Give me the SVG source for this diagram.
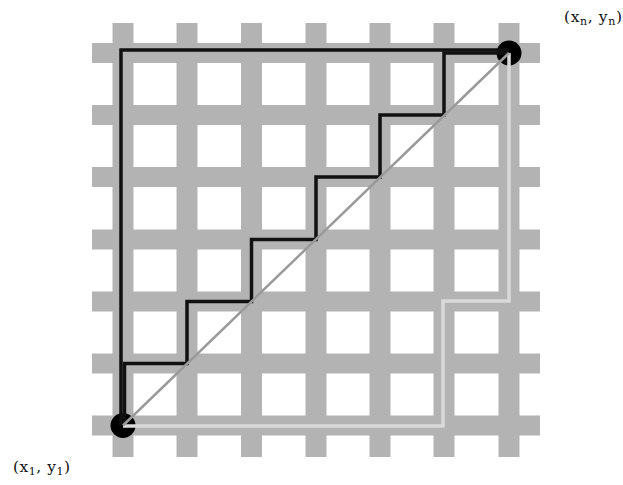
<svg xmlns="http://www.w3.org/2000/svg" width="623" height="485" viewBox="0 0 623 485">
<style>
.bar{fill:#b3b3b3}
.blk{fill:none;stroke:#111;stroke-width:3.5;stroke-linejoin:miter}
.lt{fill:none;stroke:#d9d9d9;stroke-width:3.5}
.dg{fill:none;stroke:#9a9a9a;stroke-width:2.5}
.dot{fill:#000}
.lbl{font-family:"DejaVu Serif","Liberation Serif",serif;font-size:15.5px;fill:#111}
.sub{font-size:11px}
</style>
<rect width="623" height="485" fill="#fff"/>
<g id="grid">
<rect class="bar" x="112.5" y="23" width="21" height="434"/>
<rect class="bar" x="176.5" y="23" width="21" height="434"/>
<rect class="bar" x="241" y="23" width="21" height="434"/>
<rect class="bar" x="305.5" y="23" width="21" height="434"/>
<rect class="bar" x="369.5" y="23" width="21" height="434"/>
<rect class="bar" x="433.5" y="23" width="21" height="434"/>
<rect class="bar" x="498.5" y="23" width="21" height="434"/>
<rect class="bar" x="92" y="43" width="448" height="20"/>
<rect class="bar" x="92" y="105" width="448" height="20"/>
<rect class="bar" x="92" y="167" width="448" height="20"/>
<rect class="bar" x="92" y="229.5" width="448" height="20"/>
<rect class="bar" x="92" y="291.5" width="448" height="20"/>
<rect class="bar" x="92" y="353.5" width="448" height="20"/>
<rect class="bar" x="92" y="415.5" width="448" height="20"/>
</g>
<g id="start"><circle class="dot" cx="123" cy="425.5" r="12.5"/></g>
<g id="end"><circle class="dot" cx="509" cy="53" r="12.5"/></g>
<g id="connectors">
<path class="blk" d="M121,425 V50 H509"/>
<path class="blk" d="M124.5,425 V363.5 H187 V301.5 H251.5 V239.5 H316 V177 H380 V115 H444 V53 H509"/>
<path class="lt" d="M123,426 H443 V301 H509 V53"/>
<path class="dg" d="M123,425.5 L509,53"/>
</g>
<g id="labels">
<text class="lbl" x="564" y="22" textLength="58" lengthAdjust="spacing">(x<tspan class="sub" dy="3">n</tspan><tspan dy="-3">, y</tspan><tspan class="sub" dy="3">n</tspan><tspan dy="-3">)</tspan></text>
<text class="lbl" x="13" y="472" textLength="57" lengthAdjust="spacing">(x<tspan class="sub" dy="3">1</tspan><tspan dy="-3">, y</tspan><tspan class="sub" dy="3">1</tspan><tspan dy="-3">)</tspan></text>
</g>
</svg>
